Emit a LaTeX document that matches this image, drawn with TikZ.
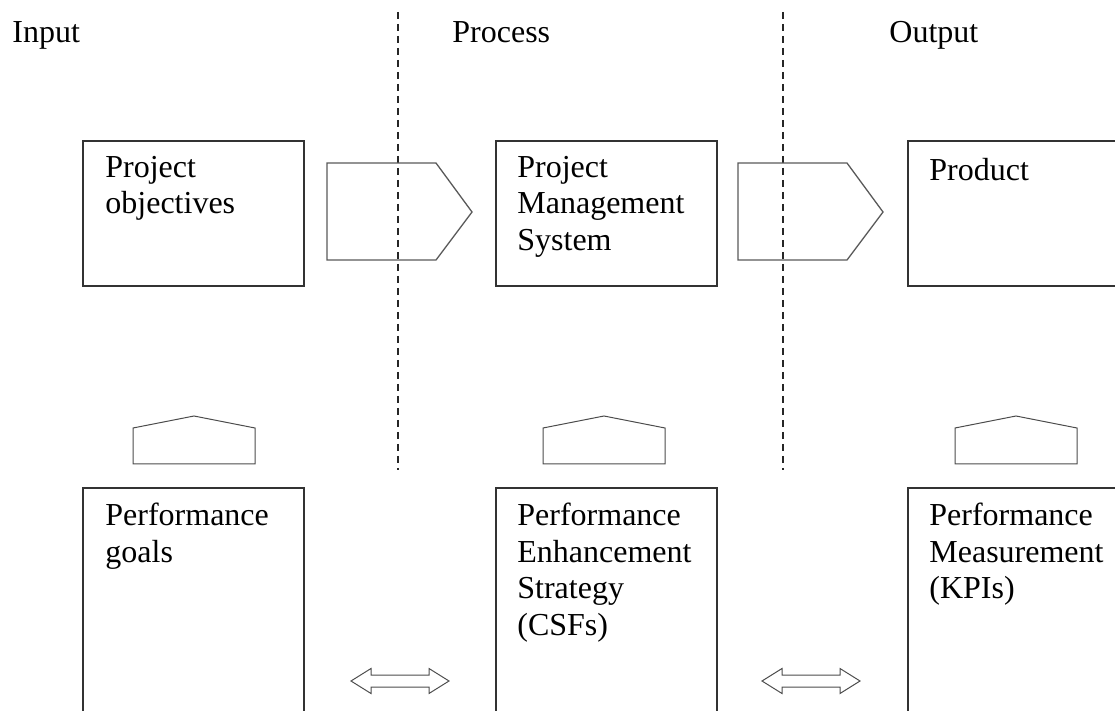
\documentclass[tikz,border=0pt]{standalone}
\usepackage{fontspec}
\setmainfont{Liberation Serif}
\usetikzlibrary{positioning,calc}

\begin{document}
\begin{tikzpicture}[x=0.5pt, y=-0.5pt, font=\fontsize{16}{18.2}\selectfont]
\tikzstyle{box}=[draw=black!80, line width=1pt, anchor=north west, inner sep=0, minimum width=110.5pt]
\tikzstyle{txt}=[anchor=north west, align=left, inner sep=0, execute at begin node=\rule{0pt}{12pt}]
\tikzstyle{divider}=[black!85, line width=0.75pt, dash pattern=on 3.5pt off 2.5pt]
\tikzstyle{flow}=[draw=black!65, line width=0.65pt, line join=miter]
\tikzstyle{house}=[draw=black!70, line width=0.5pt]
\useasboundingbox (0,0) rectangle (1115,711);
\clip (0,0) rectangle (1115,711);

\node[txt] (IN)  at (12,18)  {Input};
\node[txt] (PRC) at (452,18) {Process};
\node[txt] (OUT) at (889,18) {Output};

\draw[divider] (398,12) -- (398,470);
\draw[divider] (783,12) -- (783,470);

\node[box, minimum height=72.5pt] (OBJ)  at (82,140)  {};
\node[box, minimum height=72.5pt] (PMS)  at (495,140) {};
\node[box, minimum height=72.5pt] (PROD) at (907,140) {};
\node[box, minimum height=125pt]  (GOALS) at (82,487)  {};
\node[box, minimum height=125pt]  (PES)   at (495,487) {};
\node[box, minimum height=125pt]  (PM)    at (907,487) {};

\node[txt] at ($(OBJ.north west)+(23,16)$)   {Project\\objectives};
\node[txt] at ($(PMS.north west)+(22,16)$)   {Project\\Management\\System};
\node[txt] at ($(PROD.north west)+(22,16)$)  {Product};
\node[txt] at ($(GOALS.north west)+(23,16)$) {Performance\\goals};
\node[txt] at ($(PES.north west)+(22,16)$)   {Performance\\Enhancement\\Strategy\\(CSFs)};
\node[txt] at ($(PM.north west)+(22,16)$)    {Performance\\Measurement\\(KPIs)};

% flow arrows between the top boxes
\draw[flow] (327,163) -- (436,163) -- (472,212) -- (436,260) -- (327,260) -- cycle;
\draw[flow] (738,163) -- (847,163) -- (883,212) -- (847,260) -- (738,260) -- cycle;

% upward blocks under each column
\foreach \x in {133,543,955}
  \draw[house] (\x,464) -- (\x,428) -- (\x+61,416) -- (\x+122,428) -- (\x+122,464) -- cycle;

% two-way arrows between the bottom boxes
\foreach \x in {351,762}
  \draw[house] (\x,681) -- (\x+20,668.5) -- (\x+20,675) -- (\x+78,675) -- (\x+78,668.5)
    -- (\x+98,681) -- (\x+78,693.5) -- (\x+78,687) -- (\x+20,687) -- (\x+20,693.5) -- cycle;
\end{tikzpicture}
\end{document}
